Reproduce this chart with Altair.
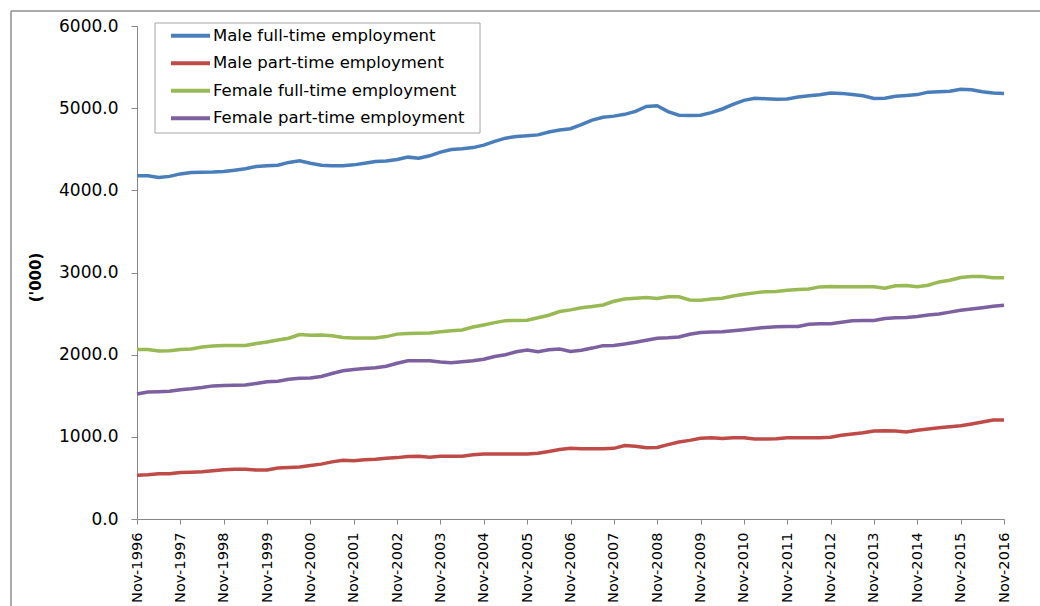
import altair as alt
import pandas as pd

# month index since Nov-1996 (quarterly readings)
months = list(range(0, 241, 3))

series_names = [
    "Male full-time employment",
    "Male part-time employment",
    "Female full-time employment",
    "Female part-time employment",
]
series_colors = ["#4a7ebb", "#be4b48", "#98b954", "#7d60a0"]
legend_rows = [0, 1, 2, 3]

male_ft = [
    4178, 4178, 4155, 4170,
    4200, 4216, 4220, 4222,
    4228, 4245, 4262, 4290,
    4298, 4305, 4340, 4360,
    4330, 4305, 4299, 4299,
    4310, 4330, 4352, 4358,
    4375, 4404, 4390, 4420,
    4465, 4497, 4506, 4520,
    4550, 4595, 4635, 4655,
    4664, 4675, 4710, 4735,
    4750, 4800, 4855, 4890,
    4903, 4925, 4960, 5020,
    5030, 4958, 4915, 4911,
    4915, 4945, 4990, 5045,
    5095, 5120, 5115, 5110,
    5112, 5135, 5150, 5163,
    5185, 5180, 5165, 5150,
    5118, 5122, 5145, 5155,
    5165, 5195, 5200, 5205,
    5230, 5225, 5200, 5185,
    5180,
]

male_pt = [
    532, 540, 552, 552,
    566, 570, 574, 586,
    600, 604, 605, 596,
    596, 620, 626, 633,
    652, 668, 695, 716,
    710, 722, 726, 740,
    747, 760, 763, 752,
    763, 763, 763, 782,
    791, 791, 791, 791,
    791, 800, 822, 845,
    860, 856, 856, 856,
    860, 893, 885, 868,
    870, 905, 937, 957,
    982, 990, 980, 990,
    990, 975, 975, 978,
    990, 990, 990, 990,
    996, 1018, 1035, 1050,
    1072, 1075, 1072, 1060,
    1080, 1095, 1110, 1122,
    1134, 1156, 1180, 1205,
    1205,
]

female_ft = [
    2064, 2064, 2046, 2048,
    2064, 2070, 2092, 2105,
    2113, 2113, 2113, 2135,
    2155, 2178, 2200, 2245,
    2235, 2240, 2230, 2208,
    2203, 2203, 2203, 2220,
    2250, 2258, 2260, 2263,
    2280, 2290, 2300, 2336,
    2362, 2390, 2414, 2416,
    2420, 2450, 2480, 2525,
    2545, 2570, 2585, 2605,
    2650, 2677, 2687, 2695,
    2683, 2706, 2705, 2666,
    2661, 2677, 2686, 2714,
    2735, 2752, 2767, 2770,
    2784, 2794, 2800, 2825,
    2830, 2828, 2827, 2827,
    2827, 2810, 2839, 2843,
    2827, 2845, 2885, 2905,
    2938, 2952, 2952, 2936,
    2936,
]

female_pt = [
    1521, 1545, 1550, 1556,
    1572, 1584, 1600, 1620,
    1625, 1627, 1630, 1650,
    1671, 1677, 1700, 1712,
    1716, 1735, 1770, 1805,
    1820, 1832, 1842, 1860,
    1895, 1925, 1927, 1927,
    1911, 1902, 1915, 1925,
    1945, 1978, 2000, 2035,
    2056, 2035, 2060, 2068,
    2040, 2055, 2080, 2110,
    2113, 2130, 2150, 2175,
    2200, 2205, 2215, 2248,
    2270, 2277, 2279, 2290,
    2303, 2318, 2332, 2341,
    2343, 2344, 2370, 2376,
    2377, 2395, 2414, 2416,
    2417, 2440, 2450, 2452,
    2465, 2482, 2496, 2518,
    2540, 2555, 2572, 2588,
    2600,
]

x_tick_values = [0, 12, 24, 36, 48, 60, 72, 84, 96, 108, 120,
                 132, 144, 156, 168, 180, 192, 204, 216, 228, 240]
x_tick_labels = [
    "Nov-1996", "Nov-1997", "Nov-1998", "Nov-1999", "Nov-2000", "Nov-2001",
    "Nov-2002", "Nov-2003", "Nov-2004", "Nov-2005", "Nov-2006", "Nov-2007",
    "Nov-2008", "Nov-2009", "Nov-2010", "Nov-2011", "Nov-2012", "Nov-2013",
    "Nov-2014", "Nov-2015", "Nov-2016",
]
y_tick_values = [0, 1000, 2000, 3000, 4000, 5000, 6000]

rows = []
for name, vals in zip(series_names, [male_ft, male_pt, female_ft, female_pt]):
    for m, v in zip(months, vals):
        rows.append({"month": m, "value": v, "series": name})
df = pd.DataFrame(rows)
legend_df = pd.DataFrame({"series": series_names, "row": legend_rows})

FONT = "DejaVu Sans"
AXIS_GRAY = "#868686"

label_expr = "[" + ",".join("'%s'" % s for s in x_tick_labels) + "][round(datum.value / 12)]"
color_scale = alt.Scale(domain=series_names, range=series_colors)

lines = alt.Chart(df).mark_line(strokeWidth=3.5).encode(
    x=alt.X(
        "month:Q",
        scale=alt.Scale(domain=[0, 240], nice=False, zero=False),
        axis=alt.Axis(
            values=x_tick_values,
            labelExpr=label_expr,
            labelAngle=270,
            labelAlign="right",
            labelBaseline="middle",
            labelPadding=8,
            labelFontSize=14.6,
            labelFont=FONT,
            labelColor="black",
            tickSize=5,
            tickColor=AXIS_GRAY,
            domainColor=AXIS_GRAY,
            grid=False,
            title=None,
            labelOverlap=False,
        ),
    ),
    y=alt.Y(
        "value:Q",
        scale=alt.Scale(domain=[0, 6000], nice=False),
        axis=alt.Axis(
            values=y_tick_values,
            format=".1f",
            labelFontSize=17,
            labelFont=FONT,
            labelColor="black",
            labelPadding=13,
            tickSize=6,
            tickColor=AXIS_GRAY,
            domainColor=AXIS_GRAY,
            grid=False,
            title="('000)",
            titleFont=FONT,
            titleFontSize=15,
            titleFontWeight="bold",
            titleColor="black",
            titleAngle=270,
            titleAlign="center",
            titleBaseline="middle",
            titleX=-102,
            titleY=251,
        ),
    ),
    color=alt.Color("series:N", sort=series_names, scale=color_scale, legend=None),
)

# legend: rows placed by a dedicated scale
legend_y = alt.Y("row:Q", scale=alt.Scale(domain=[0, 3], range=[9.7, 92.3]), axis=None)

legend_lines = alt.Chart(legend_df).mark_rule(strokeWidth=4).encode(
    x=alt.value(34), x2=alt.value(73), y=legend_y,
    color=alt.Color("series:N", scale=color_scale, legend=None),
)
legend_text = alt.Chart(legend_df).mark_text(
    align="left", baseline="middle", font=FONT, fontSize=16.5, color="black"
).encode(x=alt.value(76), y=legend_y, text="series:N")

one = pd.DataFrame({"k": [0]})

legend_box = alt.Chart(one).mark_rect(fill="white", stroke="#a6a6a6", strokeWidth=1).encode(
    x=alt.value(18), x2=alt.value(343), y=alt.value(-3), y2=alt.value(107)
)

frame_left = alt.Chart(one).mark_rule(color="#8e8e8e", strokeWidth=1.5).encode(
    x=alt.value(-126), y=alt.value(-15), y2=alt.value(600)
)
frame_top = alt.Chart(one).mark_rule(color="#8e8e8e", strokeWidth=1.5).encode(
    x=alt.value(-126), x2=alt.value(920), y=alt.value(-15)
)

chart = alt.layer(
    frame_left, frame_top, lines, legend_box, legend_lines, legend_text
).resolve_scale(y="independent").properties(
    width=867,
    height=493,
    autosize=alt.AutoSizeParams(type="none"),
    padding={"left": 137, "top": 26, "right": 36, "bottom": 87},
    background="white",
).configure_view(strokeWidth=0)

chart.save("out.html", embed_options={"renderer": "svg", "actions": False})
